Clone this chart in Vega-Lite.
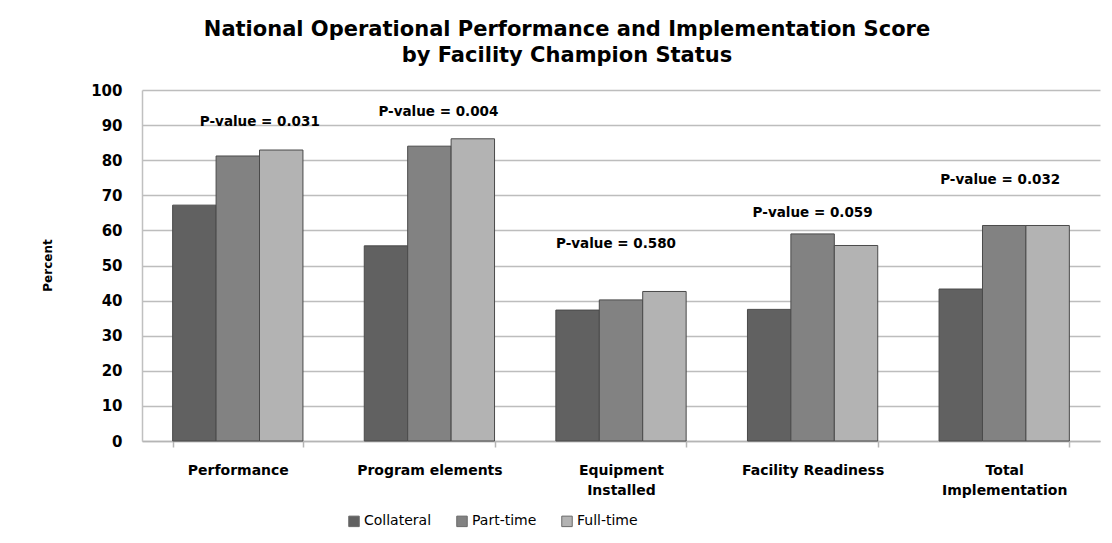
{
  "$schema": "https://vega.github.io/schema/vega-lite/v6.json",
  "autosize": {"type": "none"},
  "width": 958,
  "height": 351,
  "padding": {"left": 142, "top": 90, "right": 12, "bottom": 102},
  "background": "white",
  "title": {
    "text": ["National Operational Performance and Implementation Score", "by Facility Champion Status"],
    "font": "DejaVu Sans",
    "fontSize": 21,
    "fontWeight": "bold",
    "color": "black",
    "anchor": "middle",
    "dx": -54,
    "offset": 17,
    "lineHeight": 26
  },
  "config": {
    "view": {"stroke": null},
    "axis": {"labelFont": "DejaVu Sans", "titleFont": "DejaVu Sans", "labelColor": "black", "titleColor": "black"},
    "text": {"font": "DejaVu Sans", "fontSize": 13.5, "fontWeight": "bold", "color": "black", "baseline": "middle", "align": "center"}
  },
  "datasets": {
    "pvals": [
      {"category": "Performance", "value": 90.9, "label": "P-value = 0.031"},
      {"category": "Program elements", "value": 93.8, "label": "P-value = 0.004"},
      {"category": "Equipment\nInstalled", "value": 56.2, "label": "P-value = 0.580"},
      {"category": "Facility Readiness", "value": 65.0, "label": "P-value = 0.059"},
      {"category": "Total\nImplementation", "value": 74.4, "label": "P-value = 0.032"}
    ]
  },
  "encoding": {
    "x": {
      "field": "category",
      "type": "nominal",
      "sort": null,
      "scale": {
        "domain": ["Performance", "Program elements", "Equipment\nInstalled", "Facility Readiness", "Total\nImplementation"],
        "paddingInner": 0.32,
        "paddingOuter": 0.16
      },
      "axis": {
        "title": null,
        "labelAngle": 0,
        "labelFontSize": 14,
        "labelFontWeight": "bold",
        "labelPadding": 16,
        "labelLineHeight": 20,
        "labelExpr": "split(datum.label, '\\n')",
        "tickBand": "extent",
        "ticks": true,
        "tickSize": 6,
        "tickColor": "#b5b5b5",
        "tickWidth": 1.5,
        "domainColor": "#b5b5b5",
        "domainWidth": 1.5,
        "grid": false
      }
    },
    "y": {
      "field": "value",
      "type": "quantitative",
      "scale": {"domain": [0, 100]},
      "axis": {
        "title": "Percent",
        "titleFontSize": 12,
        "titleFontWeight": "bold",
        "titleAngle": -90,
        "titleX": -88,
        "titleY": 175,
        "values": [0, 10, 20, 30, 40, 50, 60, 70, 80, 90, 100],
        "labelOverlap": false,
        "labelFontSize": 15,
        "labelFontWeight": "bold",
        "labelPadding": 20,
        "ticks": false,
        "grid": true,
        "gridColor": "#bdbdbd",
        "gridWidth": 1.5,
        "domainColor": "#c0c0c0",
        "domainWidth": 1.5
      }
    }
  },
  "layer": [
    {
      "data": {
        "values": [
          {"category": "Performance", "status": "Collateral", "value": 67.2},
          {"category": "Performance", "status": "Part-time", "value": 81.2},
          {"category": "Performance", "status": "Full-time", "value": 82.9},
          {"category": "Program elements", "status": "Collateral", "value": 55.6},
          {"category": "Program elements", "status": "Part-time", "value": 84.0},
          {"category": "Program elements", "status": "Full-time", "value": 86.1},
          {"category": "Equipment\nInstalled", "status": "Collateral", "value": 37.3},
          {"category": "Equipment\nInstalled", "status": "Part-time", "value": 40.2},
          {"category": "Equipment\nInstalled", "status": "Full-time", "value": 42.6},
          {"category": "Facility Readiness", "status": "Collateral", "value": 37.5},
          {"category": "Facility Readiness", "status": "Part-time", "value": 59.0},
          {"category": "Facility Readiness", "status": "Full-time", "value": 55.7},
          {"category": "Total\nImplementation", "status": "Collateral", "value": 43.3},
          {"category": "Total\nImplementation", "status": "Part-time", "value": 61.4},
          {"category": "Total\nImplementation", "status": "Full-time", "value": 61.4}
        ]
      },
      "mark": {"type": "bar", "stroke": "#4a4a4a", "strokeWidth": 1},
      "encoding": {
        "xOffset": {"field": "status", "type": "nominal", "sort": ["Collateral", "Part-time", "Full-time"], "scale": {"paddingInner": 0, "paddingOuter": 0}},
        "color": {
          "field": "status",
          "type": "nominal",
          "sort": ["Collateral", "Part-time", "Full-time"],
          "scale": {"domain": ["Collateral", "Part-time", "Full-time"], "range": ["#616161", "#828282", "#b3b3b3"]},
          "legend": {
            "title": null,
            "orient": "none",
            "direction": "horizontal",
            "legendX": 205,
            "legendY": 424,
            "symbolType": "square",
            "symbolSize": 110,
            "symbolStrokeColor": "#6a6a6a",
            "symbolStrokeWidth": 1,
            "labelFont": "DejaVu Sans",
            "labelFontSize": 14,
            "labelColor": "black",
            "columnPadding": 22,
            "labelOffset": 3
          }
        }
      }
    },
    {
      "data": {"name": "pvals"},
      "transform": [{"filter": "datum.category == 'Performance'"}],
      "mark": {"type": "text", "dx": 22},
      "encoding": {"text": {"field": "label", "type": "nominal"}}
    },
    {
      "data": {"name": "pvals"},
      "transform": [{"filter": "datum.category == 'Program elements'"}],
      "mark": {"type": "text", "dx": 9},
      "encoding": {"text": {"field": "label", "type": "nominal"}}
    },
    {
      "data": {"name": "pvals"},
      "transform": [{"filter": "indexof(datum.category, 'Equipment') == 0"}],
      "mark": {"type": "text", "dx": -5},
      "encoding": {"text": {"field": "label", "type": "nominal"}}
    },
    {
      "data": {"name": "pvals"},
      "transform": [{"filter": "datum.category == 'Facility Readiness'"}],
      "mark": {"type": "text", "dx": 0},
      "encoding": {"text": {"field": "label", "type": "nominal"}}
    },
    {
      "data": {"name": "pvals"},
      "transform": [{"filter": "indexof(datum.category, 'Total') == 0"}],
      "mark": {"type": "text", "dx": -4},
      "encoding": {"text": {"field": "label", "type": "nominal"}}
    }
  ]
}
